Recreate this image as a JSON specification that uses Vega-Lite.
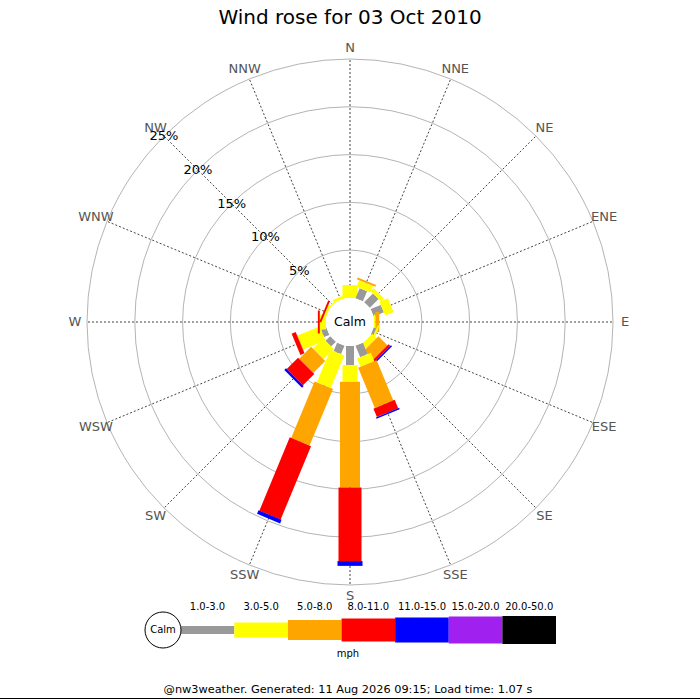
{
  "$schema": "https://vega.github.io/schema/vega-lite/v6.json",
  "width": 700,
  "height": 700,
  "padding": 0,
  "autosize": {"type": "none"},
  "background": "white",
  "config": {"view": {"stroke": null}, "font": "DejaVu Sans", "text": {"font": "DejaVu Sans"}},
  "title": {"text": "Wind rose for 03 Oct 2010", "fontSize": 20, "fontWeight": "normal", "font": "DejaVu Sans", "color": "#000000", "offset": -28, "anchor": "middle"},
  "datasets": {
    "rose": [
      {"dir": "N", "angle": 0, "speed": "3.0-5.0", "pct": 1.35},
      {"dir": "NNE", "angle": 22.5, "speed": "1.0-3.0", "pct": 1.15},
      {"dir": "NNE", "angle": 22.5, "speed": "3.0-5.0", "pct": 0.75},
      {"dir": "NNE", "angle": 22.5, "speed": "5.0-8.0", "pct": 0.2},
      {"dir": "NE", "angle": 45, "speed": "1.0-3.0", "pct": 1.3},
      {"dir": "NE", "angle": 45, "speed": "3.0-5.0", "pct": 0.45},
      {"dir": "ENE", "angle": 67.5, "speed": "1.0-3.0", "pct": 1.15},
      {"dir": "ENE", "angle": 67.5, "speed": "3.0-5.0", "pct": 0.95},
      {"dir": "E", "angle": 90, "speed": "3.0-5.0", "pct": 0.15},
      {"dir": "E", "angle": 90, "speed": "5.0-8.0", "pct": 0.4},
      {"dir": "ESE", "angle": 112.5, "speed": "1.0-3.0", "pct": 0.3},
      {"dir": "ESE", "angle": 112.5, "speed": "3.0-5.0", "pct": 0.2},
      {"dir": "SE", "angle": 135, "speed": "3.0-5.0", "pct": 0.65},
      {"dir": "SE", "angle": 135, "speed": "5.0-8.0", "pct": 1.35},
      {"dir": "SE", "angle": 135, "speed": "8.0-11.0", "pct": 0.25},
      {"dir": "SE", "angle": 135, "speed": "11.0-15.0", "pct": 0.15},
      {"dir": "SSE", "angle": 157.5, "speed": "1.0-3.0", "pct": 1.3},
      {"dir": "SSE", "angle": 157.5, "speed": "3.0-5.0", "pct": 0.95},
      {"dir": "SSE", "angle": 157.5, "speed": "5.0-8.0", "pct": 4.55},
      {"dir": "SSE", "angle": 157.5, "speed": "8.0-11.0", "pct": 0.95},
      {"dir": "SSE", "angle": 157.5, "speed": "11.0-15.0", "pct": 0.15},
      {"dir": "S", "angle": 180, "speed": "1.0-3.0", "pct": 2.0},
      {"dir": "S", "angle": 180, "speed": "3.0-5.0", "pct": 1.73},
      {"dir": "S", "angle": 180, "speed": "5.0-8.0", "pct": 11.07},
      {"dir": "S", "angle": 180, "speed": "8.0-11.0", "pct": 7.7},
      {"dir": "S", "angle": 180, "speed": "11.0-15.0", "pct": 0.5},
      {"dir": "SSW", "angle": 202.5, "speed": "1.0-3.0", "pct": 0.95},
      {"dir": "SSW", "angle": 202.5, "speed": "3.0-5.0", "pct": 3.7},
      {"dir": "SSW", "angle": 202.5, "speed": "5.0-8.0", "pct": 6.4},
      {"dir": "SSW", "angle": 202.5, "speed": "8.0-11.0", "pct": 8.3},
      {"dir": "SSW", "angle": 202.5, "speed": "11.0-15.0", "pct": 0.4},
      {"dir": "SW", "angle": 225, "speed": "1.0-3.0", "pct": 0.7},
      {"dir": "SW", "angle": 225, "speed": "3.0-5.0", "pct": 1.5},
      {"dir": "SW", "angle": 225, "speed": "5.0-8.0", "pct": 1.77},
      {"dir": "SW", "angle": 225, "speed": "8.0-11.0", "pct": 1.68},
      {"dir": "SW", "angle": 225, "speed": "11.0-15.0", "pct": 0.25},
      {"dir": "WSW", "angle": 247.5, "speed": "1.0-3.0", "pct": 0.6},
      {"dir": "WSW", "angle": 247.5, "speed": "3.0-5.0", "pct": 2.5},
      {"dir": "WSW", "angle": 247.5, "speed": "5.0-8.0", "pct": 0.05},
      {"dir": "WSW", "angle": 247.5, "speed": "8.0-11.0", "pct": 0.45},
      {"dir": "W", "angle": 270, "speed": "3.0-5.0", "pct": 0.65},
      {"dir": "W", "angle": 270, "speed": "8.0-11.0", "pct": 0.2},
      {"dir": "WNW", "angle": 292.5, "speed": "3.0-5.0", "pct": 0.26},
      {"dir": "WNW", "angle": 292.5, "speed": "8.0-11.0", "pct": 0.2},
      {"dir": "NW", "angle": 315, "speed": "3.0-5.0", "pct": 0.15},
      {"dir": "NNW", "angle": 337.5, "speed": "3.0-5.0", "pct": 0.3}
    ],
    "dirs": [
      {"dir": "N", "angle": 0}, {"dir": "NNE", "angle": 22.5}, {"dir": "NE", "angle": 45}, {"dir": "ENE", "angle": 67.5},
      {"dir": "E", "angle": 90}, {"dir": "ESE", "angle": 112.5}, {"dir": "SE", "angle": 135}, {"dir": "SSE", "angle": 157.5},
      {"dir": "S", "angle": 180}, {"dir": "SSW", "angle": 202.5}, {"dir": "SW", "angle": 225}, {"dir": "WSW", "angle": 247.5},
      {"dir": "W", "angle": 270}, {"dir": "WNW", "angle": 292.5}, {"dir": "NW", "angle": 315}, {"dir": "NNW", "angle": 337.5}
    ],
    "rings": [
      {"pct": 5, "label": "5%"}, {"pct": 10, "label": "10%"}, {"pct": 15, "label": "15%"}, {"pct": 20, "label": "20%"}, {"pct": 25, "label": "25%"}
    ],
    "speeds": [
      {"speed": "1.0-3.0"}, {"speed": "3.0-5.0"}, {"speed": "5.0-8.0"}, {"speed": "8.0-11.0"},
      {"speed": "11.0-15.0"}, {"speed": "15.0-20.0"}, {"speed": "20.0-50.0"}
    ]
  },
  "resolve": {"scale": {"x": "independent"}},
  "layer": [
    {
      "data": {"name": "rings"},
      "transform": [{"calculate": "24 + 9.56 * datum.pct", "as": "rpx"}],
      "mark": {"type": "point", "shape": "circle", "filled": false, "color": "#b4b4b4", "strokeWidth": 1, "opacity": 1},
      "encoding": {
        "x": {"datum": 0, "type": "quantitative", "scale": {"domain": [-350, 350], "nice": false, "zero": false}, "axis": null},
        "y": {"datum": 0, "type": "quantitative", "scale": {"domain": [-378, 322], "nice": false, "zero": false}, "axis": null},
        "size": {"field": "rpx", "type": "quantitative", "scale": {"type": "pow", "exponent": 2, "domain": [0, 350], "range": [0, 490000], "nice": false}, "legend": null}
      }
    },
    {
      "data": {"name": "dirs"},
      "transform": [
        {"calculate": "datum.angle * PI / 180", "as": "a"},
        {"calculate": "24 * sin(datum.a)", "as": "sx0"},
        {"calculate": "24 * cos(datum.a)", "as": "sy0"},
        {"calculate": "263 * sin(datum.a)", "as": "sx1"},
        {"calculate": "263 * cos(datum.a)", "as": "sy1"}
      ],
      "mark": {"type": "rule", "color": "#444444", "strokeWidth": 1, "strokeDash": [2, 2]},
      "encoding": {
        "x": {"field": "sx0", "type": "quantitative", "scale": {"domain": [-350, 350], "nice": false, "zero": false}, "axis": null},
        "y": {"field": "sy0", "type": "quantitative", "scale": {"domain": [-378, 322], "nice": false, "zero": false}, "axis": null},
        "x2": {"field": "sx1"},
        "y2": {"field": "sy1"}
      }
    },
    {
      "data": {"name": "rose"},
      "transform": [
        {"calculate": "indexof(['1.0-3.0','3.0-5.0','5.0-8.0','8.0-11.0','11.0-15.0','15.0-20.0','20.0-50.0'], datum.speed)", "as": "k"},
        {"stack": "pct", "groupby": ["dir"], "sort": [{"field": "k", "order": "ascending"}], "as": ["p0", "p1"]},
        {"calculate": "datum.angle * PI / 180", "as": "a"},
        {"calculate": "(24 + 9.56 * datum.p0) * sin(datum.a)", "as": "bx0"},
        {"calculate": "(24 + 9.56 * datum.p0) * cos(datum.a)", "as": "by0"},
        {"calculate": "(24 + 9.56 * datum.p1) * sin(datum.a)", "as": "bx1"},
        {"calculate": "(24 + 9.56 * datum.p1) * cos(datum.a)", "as": "by1"}
      ],
      "mark": {"type": "rule", "strokeCap": "butt", "opacity": 1},
      "encoding": {
        "x": {"field": "bx0", "type": "quantitative", "scale": {"domain": [-350, 350], "nice": false, "zero": false}, "axis": null},
        "y": {"field": "by0", "type": "quantitative", "scale": {"domain": [-378, 322], "nice": false, "zero": false}, "axis": null},
        "x2": {"field": "bx1"},
        "y2": {"field": "by1"},
        "color": {"field": "speed", "type": "ordinal", "scale": {"type": "ordinal", "domain": ["1.0-3.0", "3.0-5.0", "5.0-8.0", "8.0-11.0", "11.0-15.0", "15.0-20.0", "20.0-50.0"], "range": ["#999999", "#ffff00", "#ffa500", "#ff0000", "#0000ff", "#a020f0", "#000000"]}, "legend": null},
        "strokeWidth": {"field": "speed", "type": "ordinal", "scale": {"type": "ordinal", "domain": ["1.0-3.0", "3.0-5.0", "5.0-8.0", "8.0-11.0", "11.0-15.0", "15.0-20.0", "20.0-50.0"], "range": [8, 15, 20, 23, 25, 27, 28]}, "legend": null}
      }
    },
    {
      "data": {"values": [{"label": "Calm"}]},
      "layer": [
        {
          "mark": {"type": "point", "shape": "circle", "filled": true, "color": "#ffffff", "opacity": 1, "size": 2304, "strokeWidth": 0},
          "encoding": {
            "x": {"datum": 0, "type": "quantitative", "scale": {"domain": [-350, 350], "nice": false, "zero": false}, "axis": null},
            "y": {"datum": 0, "type": "quantitative", "scale": {"domain": [-378, 322], "nice": false, "zero": false}, "axis": null}
          }
        },
        {
          "mark": {"type": "text", "fontSize": 12.5, "color": "#000000", "align": "center", "baseline": "middle"},
          "encoding": {
            "x": {"datum": 0, "type": "quantitative", "scale": {"domain": [-350, 350], "nice": false, "zero": false}, "axis": null},
            "y": {"datum": 0, "type": "quantitative", "scale": {"domain": [-378, 322], "nice": false, "zero": false}, "axis": null},
            "text": {"field": "label"}
          }
        }
      ]
    },
    {
      "data": {"name": "dirs"},
      "transform": [
        {"calculate": "datum.angle * PI / 180", "as": "a"},
        {"calculate": "275 * sin(datum.a)", "as": "lx"},
        {"calculate": "274 * cos(datum.a)", "as": "ly"}
      ],
      "mark": {"type": "text", "fontSize": 13, "color": "#555555", "align": "center", "baseline": "middle"},
      "encoding": {
        "x": {"field": "lx", "type": "quantitative", "scale": {"domain": [-350, 350], "nice": false, "zero": false}, "axis": null},
        "y": {"field": "ly", "type": "quantitative", "scale": {"domain": [-378, 322], "nice": false, "zero": false}, "axis": null},
        "text": {"field": "dir"}
      }
    },
    {
      "data": {"name": "rings"},
      "transform": [
        {"calculate": "-(24 + 9.56 * datum.pct) * 0.70711", "as": "tx"},
        {"calculate": "(24 + 9.56 * datum.pct) * 0.70711", "as": "ty"}
      ],
      "mark": {"type": "text", "fontSize": 13, "color": "#000000", "align": "center", "baseline": "middle"},
      "encoding": {
        "x": {"field": "tx", "type": "quantitative", "scale": {"domain": [-350, 350], "nice": false, "zero": false}, "axis": null},
        "y": {"field": "ty", "type": "quantitative", "scale": {"domain": [-378, 322], "nice": false, "zero": false}, "axis": null},
        "text": {"field": "label"}
      }
    },
    {
      "data": {"name": "speeds"},
      "layer": [
        {
          "mark": {"type": "rule", "strokeCap": "butt", "opacity": 1},
          "encoding": {
            "x": {"field": "speed", "type": "ordinal", "bandPosition": 0, "scale": {"type": "band", "domain": ["1.0-3.0", "3.0-5.0", "5.0-8.0", "8.0-11.0", "11.0-15.0", "15.0-20.0", "20.0-50.0"], "range": [180.7, 556], "paddingInner": 0, "paddingOuter": 0}, "axis": null},
            "x2": {"field": "speed", "bandPosition": 1},
            "y": {"datum": -308, "type": "quantitative", "scale": {"domain": [-378, 322], "nice": false, "zero": false}, "axis": null},
            "color": {"field": "speed", "type": "ordinal", "scale": {"type": "ordinal", "domain": ["1.0-3.0", "3.0-5.0", "5.0-8.0", "8.0-11.0", "11.0-15.0", "15.0-20.0", "20.0-50.0"], "range": ["#999999", "#ffff00", "#ffa500", "#ff0000", "#0000ff", "#a020f0", "#000000"]}, "legend": null},
            "strokeWidth": {"field": "speed", "type": "ordinal", "scale": {"type": "ordinal", "domain": ["1.0-3.0", "3.0-5.0", "5.0-8.0", "8.0-11.0", "11.0-15.0", "15.0-20.0", "20.0-50.0"], "range": [8, 15, 20, 23, 25, 27, 28]}, "legend": null}
          }
        },
        {
          "mark": {"type": "text", "fontSize": 10, "color": "#000000", "align": "center", "baseline": "middle"},
          "encoding": {
            "x": {"field": "speed", "type": "ordinal", "bandPosition": 0.5, "scale": {"type": "band", "domain": ["1.0-3.0", "3.0-5.0", "5.0-8.0", "8.0-11.0", "11.0-15.0", "15.0-20.0", "20.0-50.0"], "range": [180.7, 556], "paddingInner": 0, "paddingOuter": 0}, "axis": null},
            "y": {"datum": -285, "type": "quantitative", "scale": {"domain": [-378, 322], "nice": false, "zero": false}, "axis": null},
            "text": {"field": "speed"}
          }
        }
      ]
    },
    {
      "data": {"values": [{"label": "Calm"}]},
      "layer": [
        {
          "mark": {"type": "point", "shape": "circle", "filled": false, "color": "#000000", "fill": "#ffffff", "fillOpacity": 1, "opacity": 1, "size": 1296, "strokeWidth": 1},
          "encoding": {
            "x": {"datum": -187, "type": "quantitative", "scale": {"domain": [-350, 350], "nice": false, "zero": false}, "axis": null},
            "y": {"datum": -308, "type": "quantitative", "scale": {"domain": [-378, 322], "nice": false, "zero": false}, "axis": null}
          }
        },
        {
          "mark": {"type": "text", "fontSize": 10, "color": "#000000", "align": "center", "baseline": "middle"},
          "encoding": {
            "x": {"datum": -187, "type": "quantitative", "scale": {"domain": [-350, 350], "nice": false, "zero": false}, "axis": null},
            "y": {"datum": -308, "type": "quantitative", "scale": {"domain": [-378, 322], "nice": false, "zero": false}, "axis": null},
            "text": {"field": "label"}
          }
        }
      ]
    },
    {
      "data": {"values": [{"label": "mph"}]},
      "mark": {"type": "text", "fontSize": 10, "color": "#000000", "align": "center", "baseline": "middle"},
      "encoding": {
        "x": {"datum": -2, "type": "quantitative", "scale": {"domain": [-350, 350], "nice": false, "zero": false}, "axis": null},
        "y": {"datum": -332, "type": "quantitative", "scale": {"domain": [-378, 322], "nice": false, "zero": false}, "axis": null},
        "text": {"field": "label"}
      }
    },
    {
      "data": {"values": [{"label": "@nw3weather. Generated: 11 Aug 2026 09:15; Load time: 1.07 s"}]},
      "mark": {"type": "text", "fontSize": 11.3, "color": "#000000", "align": "center", "baseline": "middle"},
      "encoding": {
        "x": {"datum": -2, "type": "quantitative", "scale": {"domain": [-350, 350], "nice": false, "zero": false}, "axis": null},
        "y": {"datum": -368, "type": "quantitative", "scale": {"domain": [-378, 322], "nice": false, "zero": false}, "axis": null},
        "text": {"field": "label"}
      }
    },
    {
      "data": {"values": [{"edge": "bottom"}]},
      "mark": {"type": "rule", "color": "#000000", "strokeWidth": 1},
      "encoding": {
        "x": {"datum": -350, "type": "quantitative", "scale": {"domain": [-350, 350], "nice": false, "zero": false}, "axis": null},
        "x2": {"datum": 350},
        "y": {"datum": -376.5, "type": "quantitative", "scale": {"domain": [-378, 322], "nice": false, "zero": false}, "axis": null}
      }
    }
  ]
}
